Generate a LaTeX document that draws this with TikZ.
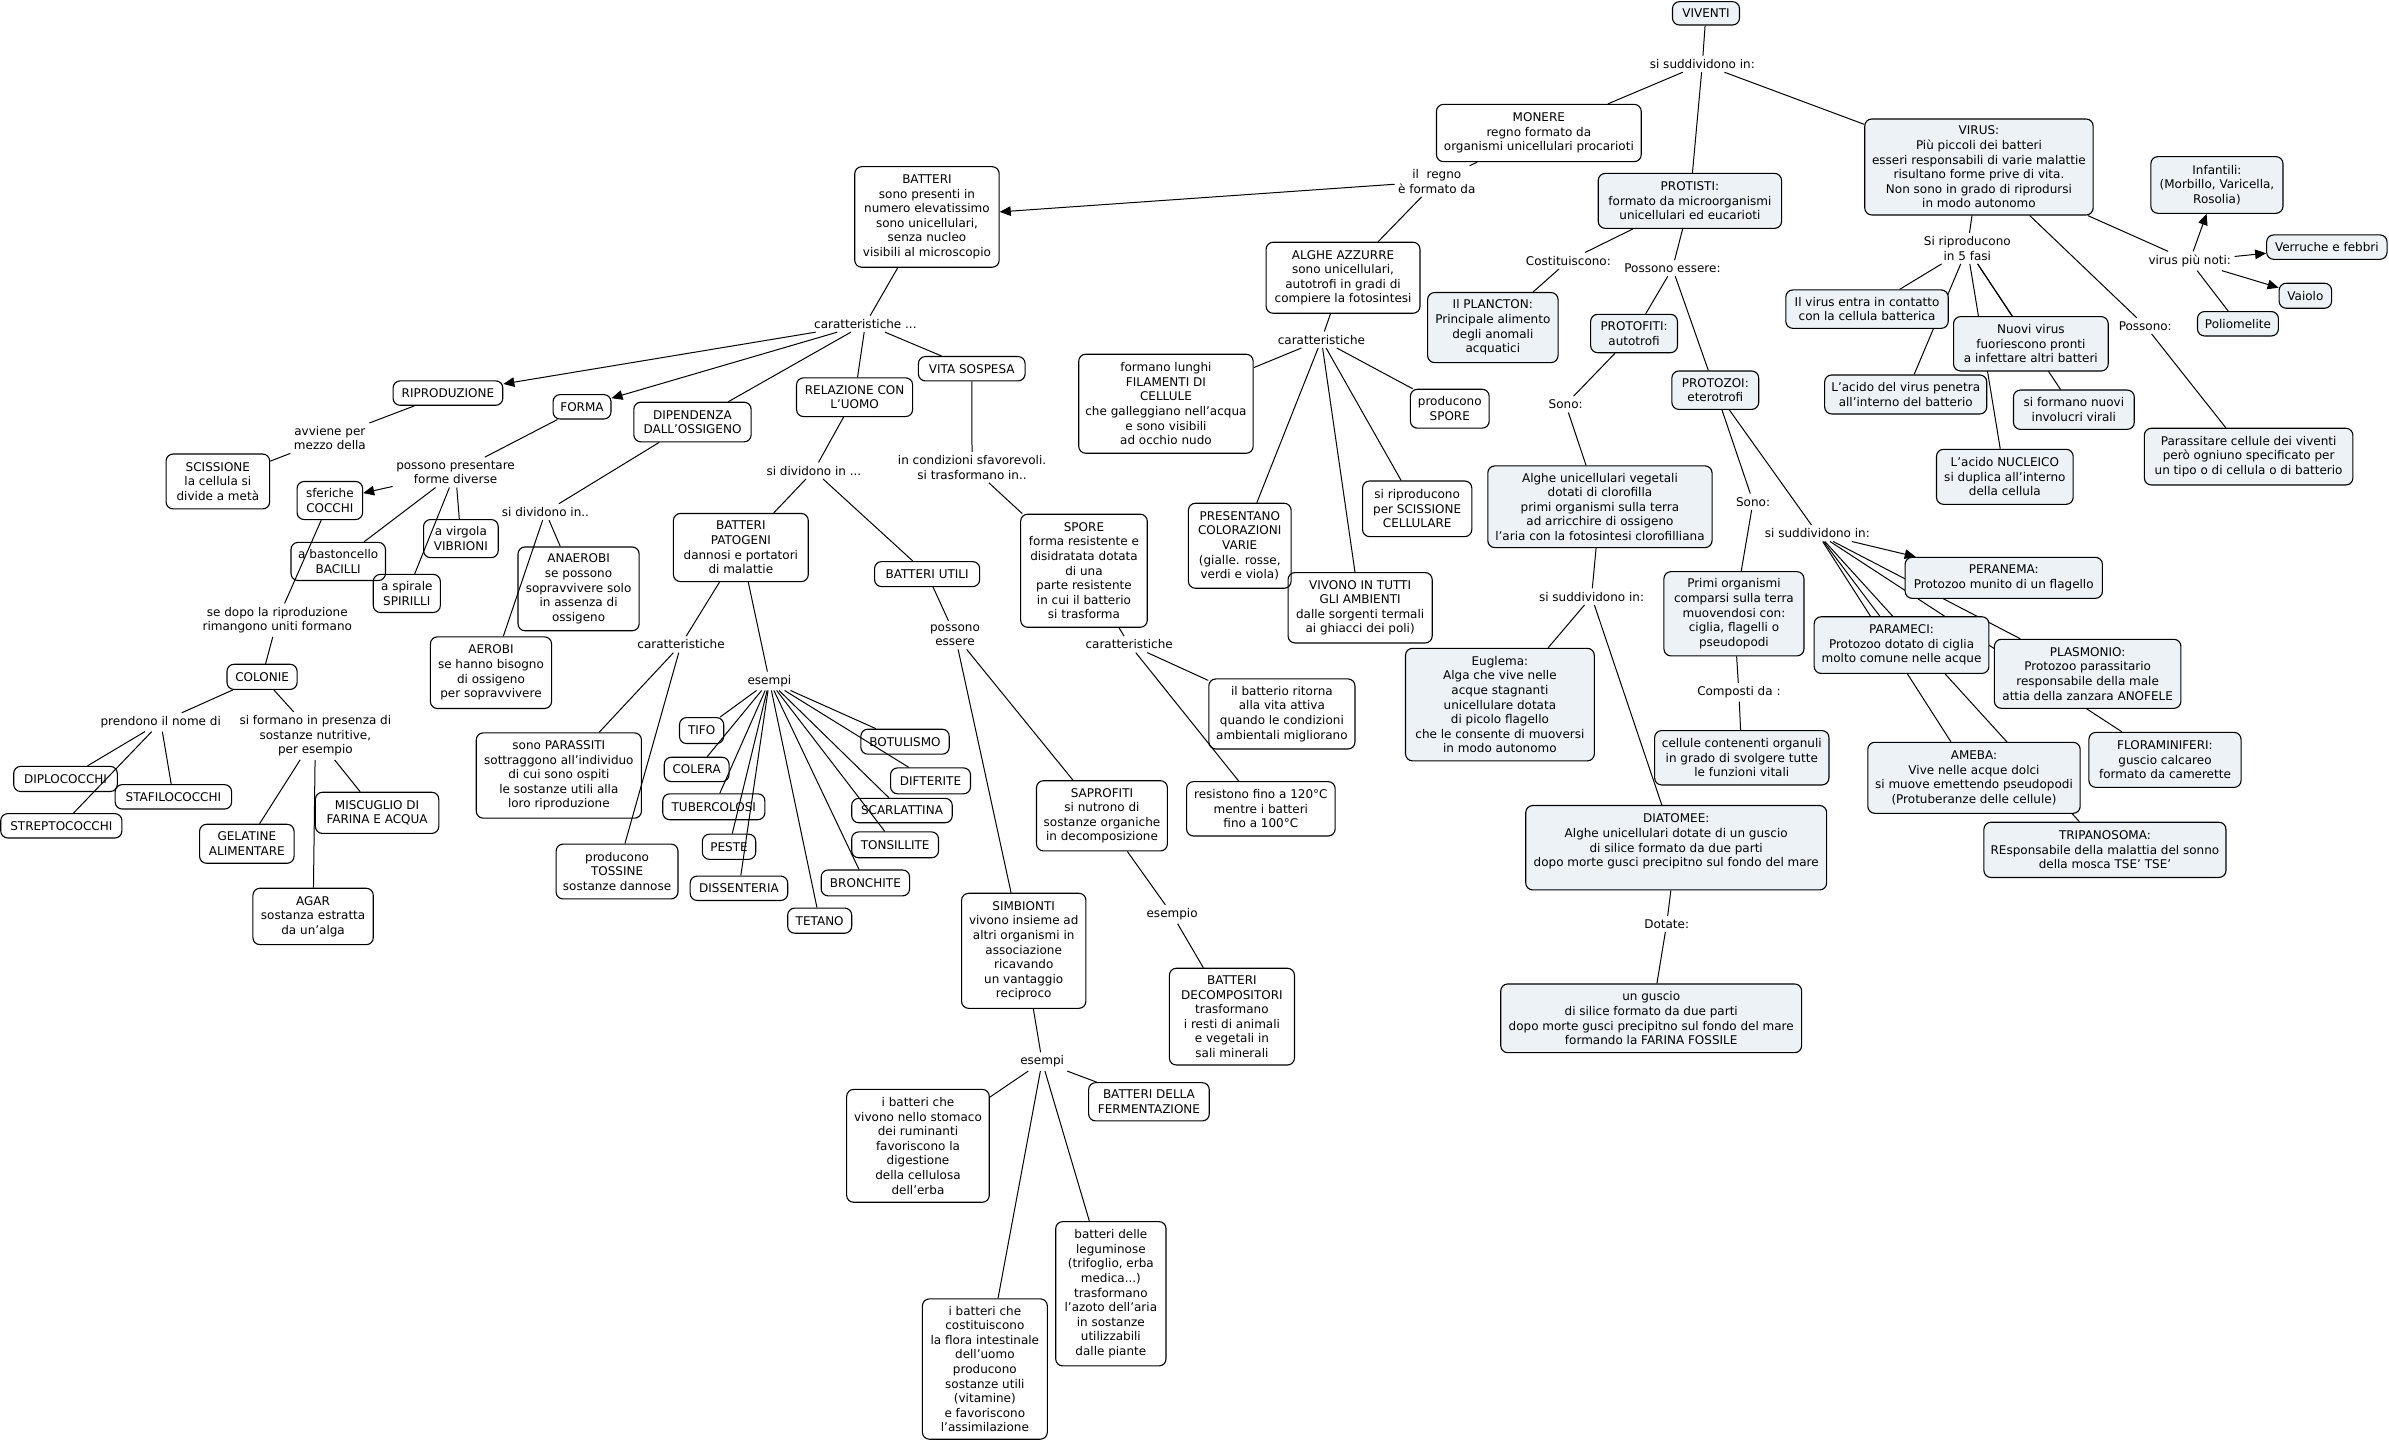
\documentclass[tikz,border=0pt]{standalone}
\usepackage{fontspec}
\setmainfont{DejaVu Sans}
\usetikzlibrary{arrows.meta}
\pgfdeclarelayer{bg}
\pgfsetlayers{bg,main}
\definecolor{bluefill}{RGB}{236,242,245}
\newcommand{\Bx}[7][]{%
  \pgfmathsetmacro\bxw{(#5-#3)*0.7618}%
  \pgfmathsetmacro\bxh{(#6-#4)*0.7618}%
  \node[box,#1,minimum width=\bxw pt,minimum height=\bxh pt] (#2) at ({(#3+#5)/2},{(#4+#6)/2}) {#7};}
\begin{document}
\begin{tikzpicture}[x=0.7618pt,y=-0.7618pt,
  font=\fontsize{6}{7.3}\selectfont,
  box/.style={draw,rounded corners=3.5pt,line width=0.55pt,align=center,inner sep=1pt},
  bl/.style={fill=bluefill},
  lab/.style={align=center,inner sep=1.6pt},
  ln/.style={line width=0.5pt},
  ar/.style={line width=0.5pt,-{Triangle[length=5.5pt,width=4.8pt]}}]
\begin{pgfonlayer}{bg}
\fill[white] (0,0) rectangle (1568,946.4);
\end{pgfonlayer}
\useasboundingbox (0,0) rectangle (1568,946.4);

% ---------- right part ----------
\Bx[bl]{viv}{1097.7}{1.1}{1141.7}{16.4}{VIVENTI}
\node[lab] (lsudd) at (1117.3,42) {si suddividono in:};
\Bx{mon}{942.8}{68.5}{1077.2}{106.1}{MONERE\\regno formato da\\organismi unicellulari procarioti}
\Bx[bl]{pro}{1049}{113.8}{1169.3}{149.9}{PROTISTI:\\formato da microorganismi\\unicellulari ed eucarioti}
\Bx[bl]{vir}{1223.9}{78.1}{1373.8}{141.1}{VIRUS:\\Più piccoli dei batteri\\esseri responsabili di varie malattie\\risultano forme prive di vita.\\Non sono in grado di riprodursi\\in modo autonomo}
\node[lab] (lregno) at (943,119) {il\ \ regno\\è formato da};
\Bx{bat}{561}{109.4}{655.8}{175.4}{BATTERI\\sono presenti in\\numero elevatissimo\\sono unicellulari,\\senza nucleo\\visibili al microscopio}
\Bx{alg}{831}{159}{932}{205.6}{ALGHE AZZURRE\\sono unicellulari,\\autotrofi in gradi di\\compiere la fotosintesi}
\node[lab] (lcar2) at (867.3,223) {caratteristiche};
\Bx{fil}{708}{232.5}{822.5}{297.5}{formano lunghi\\FILAMENTI DI\\CELLULE\\che galleggiano nell'acqua\\e sono visibili\\ad occhio nudo}
\Bx{colr}{780}{330.3}{847.4}{386.1}{PRESENTANO\\COLORAZIONI\\VARIE\\(gialle. rosse,\\verdi e viola)}
\Bx{amb}{845.4}{375.8}{940}{422}{VIVONO IN TUTTI\\GLI AMBIENTI\\dalle sorgenti termali\\ai ghiacci dei poli)}
\Bx{scib}{894.3}{315.7}{966}{352.2}{si riproducono\\per SCISSIONE\\CELLULARE}
\Bx{spob}{925.7}{255.5}{977.4}{281}{producono\\SPORE}

\node[lab] (lcost) at (1029.4,171.1) {Costituiscono:};
\node[lab] (lposs) at (1097.7,176.1) {Possono essere:};
\Bx[bl]{pla}{937}{192}{1022.6}{238}{Il PLANCTON:\\Principale alimento\\degli anomali\\acquatici}
\Bx[bl]{pfi}{1044}{206.3}{1101}{231.5}{PROTOFITI:\\autotrofi}
\Bx[bl]{pzo}{1097.3}{243.5}{1154.3}{268.7}{PROTOZOI:\\eterotrofi}
\node[lab] (lsonoa) at (1027.6,265.4) {Sono:};
\Bx[bl]{auv}{976.5}{305.8}{1123.7}{359.4}{Alghe unicellulari vegetali\\dotati di clorofilla\\primi organismi sulla terra\\ad arricchire di ossigeno\\l'aria con la fotosintesi clorofilliana}
\node[lab] (lsuddb) at (1044.6,391.6) {si suddividono in:};
\Bx[bl]{eug}{922.5}{425.5}{1046.4}{499.4}{Euglema:\\Alga che vive nelle\\acque stagnanti\\unicellulare dotata\\di picolo flagello\\che le consente di muoversi\\in modo autonomo}
\Bx[bl]{dia}{1001.4}{528.7}{1198.9}{584.1}{DIATOMEE:\\Alghe unicellulari dotate di un guscio\\di silice formato da due parti\\dopo morte gusci precipitno sul fondo del mare\\\mbox{}}
\node[lab] (ldot) at (1093.9,606.4) {Dotate:};
\Bx[bl]{gus}{985}{645.8}{1182.5}{690.9}{un guscio\\di silice formato da due parti\\dopo morte gusci precipitno sul fondo del mare\\formando la FARINA FOSSILE}
\node[lab] (lsonob) at (1150.6,329.3) {Sono:};
\Bx[bl]{pri}{1092.1}{375.2}{1184}{430.5}{Primi organismi\\comparsi sulla terra\\muovendosi con:\\ciglia, flagelli o\\pseudopodi}
\node[lab] (lcomp) at (1141.3,454.4) {Composti da :};
\Bx[bl]{cel}{1086}{479.5}{1200.4}{515.2}{cellule contenenti organuli\\in grado di svolgere tutte\\le funzioni vitali}
\node[lab] (lsuddc) at (1192.8,350) {si suddividono in:};
\Bx[bl]{per}{1250.4}{365.8}{1379.9}{392.7}{PERANEMA:\\Protozoo munito di un flagello}
\Bx[bl]{par}{1190.7}{404.8}{1305.4}{442}{PARAMECI:\\Protozoo dotato di ciglia\\molto comune nelle acque}
\Bx[bl]{plm}{1309}{419.6}{1431.4}{464.9}{PLASMONIO:\\Protozoo parassitario\\responsabile della male\\attia della zanzara ANOFELE}
\Bx[bl]{flo}{1371}{480.7}{1470.9}{516.8}{FLORAMINIFERI:\\guscio calcareo\\formato da camerette}
\Bx[bl]{ame}{1225.9}{487.2}{1365.3}{533.8}{AMEBA:\\Vive nelle acque dolci\\si muove emettendo pseudopodi\\(Protuberanze delle cellule)}
\Bx[bl]{tri}{1302.1}{539.7}{1461}{575.9}{TRIPANOSOMA:\\REsponsabile della malattia del sonno\\della mosca TSE' TSE'}

\node[lab] (lfasi) at (1291.2,163) {Si riproducono\\in 5 fasi};
\Bx[bl]{vea}{1172.1}{190.3}{1278.7}{215.5}{Il virus entra in contatto\\con la cellula batterica}
\Bx[bl]{veb}{1197.6}{246.1}{1304}{271.7}{L'acido del virus penetra\\all'interno del batterio}
\Bx[bl]{vec}{1271}{294.9}{1360.7}{331}{L'acido NUCLEICO\\si duplica all'interno\\della cellula}
\Bx[bl]{ved}{1321.5}{256}{1400.8}{281.8}{si formano nuovi\\involucri virali}
\Bx[bl]{vee}{1282.2}{207.8}{1383.7}{243.5}{Nuovi virus\\fuoriescono pronti\\a infettare altri batteri}
\node[lab] (lnoti) at (1437.2,171.3) {virus più noti:};
\Bx[bl]{inf}{1411.7}{102.8}{1498.4}{140}{Infantili:\\(Morbillo, Varicella,\\Rosolia)}
\Bx[bl]{ver}{1487.7}{154.2}{1566.7}{170.2}{Verruche e febbri}
\Bx[bl]{vai}{1495.9}{185.9}{1530.3}{202.3}{Vaiolo}
\Bx[bl]{pol}{1442.3}{204.5}{1495.4}{220.5}{Poliomelite}
\node[lab] (lpos) at (1408,213.9) {Possono:};
\Bx[bl]{prs}{1407.4}{281.1}{1544.3}{318.3}{Parassitare cellule dei viventi\\però ogniuno specificato per\\un tipo o di cellula o di batterio}

% ---------- left part ----------
\node[lab] (lcara) at (568,212.6) {caratteristiche ...};
\Bx{rip}{258}{250}{330}{266}{RIPRODUZIONE}
\Bx{for}{363}{259}{401}{275}{FORMA}
\Bx{dip}{416}{264}{493}{290}{DIPENDENZA\\DALL'OSSIGENO}
\Bx{rel}{522.8}{248}{599}{273.4}{RELAZIONE CON\\L'UOMO}
\Bx{vit}{602.8}{234}{672.8}{250}{VITA SOSPESA}
\node[lab] (lavv) at (216.5,287.5) {avviene per\\mezzo della};
\Bx{sci}{109}{298}{177}{334}{SCISSIONE\\la cellula si\\divide a metà}
\node[lab] (lfd) at (299,310) {possono presentare\\forme diverse};
\Bx{coc}{195}{316}{238}{341}{sferiche\\COCCHI}
\Bx{bac}{191}{356}{253}{381}{a bastoncello\\BACILLI}
\Bx{vib}{278}{341}{327}{366}{a virgola\\VIBRIONI}
\Bx{spi}{245}{377}{289}{402}{a spirale\\SPIRILLI}
\node[lab] (lrim) at (182,407) {se dopo la riproduzione\\rimangono uniti formano};
\Bx{colo}{149}{436}{195}{452.5}{COLONIE}
\node[lab] (lpren) at (105.5,474) {prendono il nome di};
\node[lab] (lsost) at (207,483) {si formano in presenza di\\sostanze nutritive,\\per esempio};
\Bx{dpl}{9}{503}{77}{519.5}{DIPLOCOCCHI}
\Bx{stf}{75.6}{515}{152}{531}{STAFILOCOCCHI}
\Bx{str}{0.5}{534}{80}{550}{STREPTOCOCCHI}
\Bx{gel}{131}{541}{193}{566.6}{GELATINE\\ALIMENTARE}
\Bx{mis}{207}{520}{288}{547}{MISCUGLIO DI\\FARINA E ACQUA}
\Bx{aga}{166}{583}{245}{620}{AGAR\\sostanza estratta\\da un'alga}
\node[lab] (ldiva) at (358,336) {si dividono in..};
\Bx{ana}{340}{359}{419.5}{414}{ANAEROBI\\se possono\\sopravvivere solo\\in assenza di\\ossigeno}
\Bx{aer}{282.5}{418}{362}{465}{AEROBI\\se hanno bisogno\\di ossigeno\\per sopravvivere}
\node[lab] (ldivb) at (534.2,308.9) {si dividono in ...};
\Bx{pat}{442}{337}{530.5}{381.7}{BATTERI\\PATOGENI\\dannosi e portatori\\di malattie}
\Bx{uti}{574}{368.6}{643}{385}{BATTERI UTILI}
\node[lab] (lcarc) at (447,423) {caratteristiche};
\Bx{pas}{312.6}{481}{421}{537}{sono PARASSITI\\sottraggono all'individuo\\di cui sono ospiti\\le sostanze utili alla\\loro riproduzione}
\Bx{tos}{365}{554}{445}{590}{producono\\TOSSINE\\sostanze dannose}
\node[lab] (lesa) at (505,447) {esempi};
\Bx{tif}{446}{471}{475}{488}{TIFO}
\Bx{cle}{436}{497}{478.5}{513}{COLERA}
\Bx{tub}{435}{521}{502}{538}{TUBERCOLOSI}
\Bx{pes}{461}{547.5}{496}{564}{PESTE}
\Bx{dis}{453}{575}{517}{591}{DISSENTERIA}
\Bx{tet}{517}{596}{559}{612.5}{TETANO}
\Bx{bro}{539}{571}{597}{588}{BRONCHITE}
\Bx{ton}{559}{546}{616}{563}{TONSILLITE}
\Bx{sca}{559}{524}{625}{540}{SCARLATTINA}
\Bx{dif}{584.5}{504}{637}{521}{DIFTERITE}
\Bx{bot}{565}{478.6}{623}{495}{BOTULISMO}
\node[lab] (lpe) at (626.8,416.8) {possono\\essere};
\Bx{sap}{680.3}{512.4}{766.2}{558.5}{SAPROFITI\\si nutrono di\\sostanze organiche\\in decomposizione}
\Bx{sim}{631.1}{586.3}{712.7}{661.8}{SIMBIONTI\\vivono insieme ad\\altri organismi in\\associazione\\ricavando\\un vantaggio\\reciproco}
\node[lab] (lesm) at (769.3,600.1) {esempio};
\Bx{dec}{767.5}{635.5}{849.6}{699}{BATTERI\\DECOMPOSITORI\\trasformano\\i resti di animali\\e vegetali in\\sali minerali}
\node[lab] (lesb) at (684,696.8) {esempi};
\Bx{sto}{555.7}{715}{649.3}{789.1}{i batteri che\\vivono nello stomaco\\dei ruminanti\\favoriscono la\\digestione\\della cellulosa\\dell'erba}
\Bx{fer}{714.5}{710.6}{793.7}{735.7}{BATTERI DELLA\\FERMENTAZIONE}
\Bx{leg}{692.9}{801.8}{765.3}{896.5}{batteri delle\\leguminose\\(trifoglio, erba\\medica...)\\trasformano\\l'azoto dell'aria\\in sostanze\\utilizzabili\\dalle piante}
\Bx{cos}{605.4}{852.5}{687.4}{944.6}{i batteri che\\costituiscono\\la flora intestinale\\dell'uomo\\producono\\sostanze utili\\(vitamine)\\e favoriscono\\l'assimilazione}
\node[lab] (lcond) at (638,306.7) {in condizioni sfavorevoli.\\si trasformano in..};
\Bx{spo}{669.9}{337.5}{753}{411.7}{SPORE\\forma resistente e\\disidratata dotata\\di una\\parte resistente\\in cui il batterio\\si trasforma}
\node[lab] (lcard) at (741.1,422.9) {caratteristiche};
\Bx{rit}{793.4}{445.6}{889.3}{491.6}{il batterio ritorna\\alla vita attiva\\quando le condizioni\\ambientali migliorano}
\Bx{res}{778.8}{513}{876.3}{548.7}{resistono fino a 120°C\\mentre i batteri\\fino a 100°C}

% ---------- connectors ----------
\begin{pgfonlayer}{bg}
\draw[ln] (viv) -- (lsudd);
\foreach \t in {mon,pro,vir} \draw[ln] (lsudd) -- (\t);
\draw[ln] (mon) -- (lregno);
\draw[ar] (lregno) -- (bat);
\draw[ln] (lregno) -- (alg);
\draw[ln] (alg) -- (lcar2);
\foreach \t in {fil,colr,amb,scib,spob} \draw[ln] (lcar2) -- (\t);
\draw[ln] (pro) -- (lcost); \draw[ln] (lcost) -- (pla);
\draw[ln] (pro) -- (lposs); \draw[ln] (lposs) -- (pfi); \draw[ln] (lposs) -- (pzo);
\draw[ln] (pfi) -- (lsonoa); \draw[ln] (lsonoa) -- (auv);
\draw[ln] (auv) -- (lsuddb); \draw[ln] (lsuddb) -- (eug); \draw[ln] (lsuddb) -- (dia);
\draw[ln] (dia) -- (ldot); \draw[ln] (ldot) -- (gus);
\draw[ln] (pzo) -- (lsonob); \draw[ln] (lsonob) -- (pri);
\draw[ln] (pri) -- (lcomp); \draw[ln] (lcomp) -- (cel);
\draw[ln] (pzo) -- (lsuddc);
\draw[ar] (lsuddc) -- (per);
\foreach \t in {par,plm,flo,ame,tri} \draw[ln] (lsuddc) -- (\t);
\draw[ln] (vir) -- (lfasi);
\foreach \t in {vea,veb,vec,ved,vee} \draw[ln] (lfasi) -- (\t);
\draw[ln] (vir) -- (lnoti);
\draw[ar] (lnoti) -- (inf); \draw[ar] (lnoti) -- (ver); \draw[ar] (lnoti) -- (vai);
\draw[ln] (lnoti) -- (pol);
\draw[ln] (vir) -- (lpos); \draw[ln] (lpos) -- (prs);

\draw[ln] (bat) -- (lcara);
\draw[ar] (lcara) -- (rip); \draw[ar] (lcara) -- (for);
\foreach \t in {dip,rel,vit} \draw[ln] (lcara) -- (\t);
\draw[ln] (rip) -- (lavv); \draw[ln] (lavv) -- (sci);
\draw[ln] (for) -- (lfd); \draw[ar] (lfd) -- (coc);
\foreach \t in {bac,spi,vib} \draw[ln] (lfd) -- (\t);
\draw[ln] (coc) -- (lrim); \draw[ln] (lrim) -- (colo);
\draw[ln] (colo) -- (lpren); \draw[ln] (colo) -- (lsost);
\foreach \t in {dpl,stf,str} \draw[ln] (lpren) -- (\t);
\foreach \t in {gel,mis,aga} \draw[ln] (lsost) -- (\t);
\draw[ln] (dip) -- (ldiva); \draw[ln] (ldiva) -- (ana); \draw[ln] (ldiva) -- (aer);
\draw[ln] (rel) -- (ldivb); \draw[ln] (ldivb) -- (pat); \draw[ln] (ldivb) -- (uti);
\draw[ln] (pat) -- (lcarc); \draw[ln] (lcarc) -- (pas); \draw[ln] (lcarc) -- (tos);
\draw[ln] (pat) -- (lesa);
\foreach \t in {tif,cle,tub,pes,dis,tet,bro,ton,sca,dif,bot} \draw[ln] (lesa) -- (\t);
\draw[ln] (uti) -- (lpe); \draw[ln] (lpe) -- (sap); \draw[ln] (lpe) -- (sim);
\draw[ln] (sap) -- (lesm); \draw[ln] (lesm) -- (dec);
\draw[ln] (sim) -- (lesb);
\foreach \t in {sto,fer,leg,cos} \draw[ln] (lesb) -- (\t);
\draw[ln] (vit) -- (lcond); \draw[ln] (lcond) -- (spo);
\draw[ln] (spo) -- (lcard); \draw[ln] (lcard) -- (rit); \draw[ln] (lcard) -- (res);
\end{pgfonlayer}
\end{tikzpicture}
\end{document}
